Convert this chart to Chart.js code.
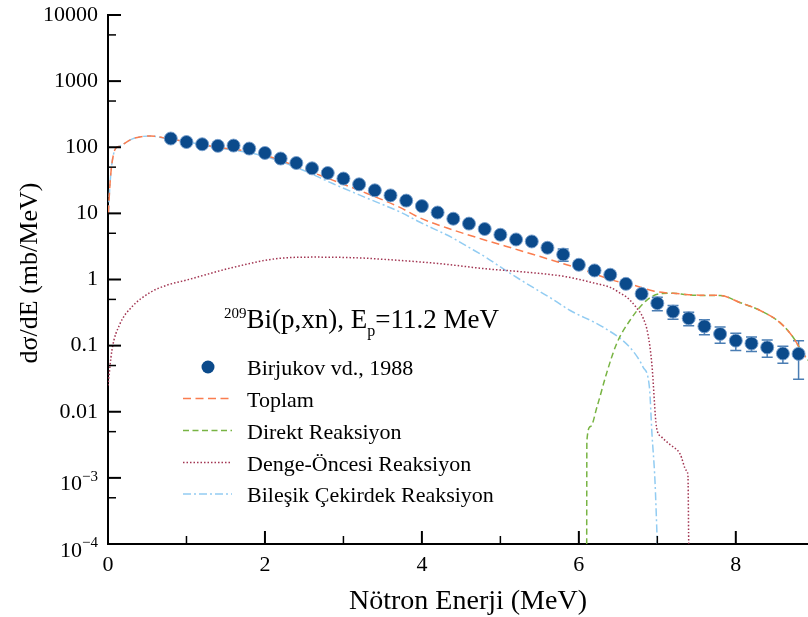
<!DOCTYPE html>
<html>
<head>
<meta charset="utf-8">
<script src="https://cdn.jsdelivr.net/npm/chart.js@4.4.1/dist/chart.umd.min.js"></script>
<style>
  html, body { margin: 0; padding: 0; background: #fff; }
  canvas { display: block; }
</style>
</head>
<body>
<canvas id="chart-bi" width="808" height="617"></canvas>
<script>
// Birjukov vd., 1988 - deney noktalari (MeV, mb/MeV)
const expE = [0.8, 1.0, 1.2, 1.4, 1.6, 1.8, 2.0, 2.2, 2.4, 2.6, 2.8, 3.0, 3.2, 3.4, 3.6, 3.8, 4.0, 4.2, 4.4, 4.6,
  4.8, 5.0, 5.2, 5.4, 5.6, 5.8, 6.0, 6.2, 6.4, 6.6, 6.8, 7.0, 7.2, 7.4, 7.6, 7.8, 8.0, 8.2, 8.4, 8.6, 8.8]
const expV = [135.5, 120, 111, 105, 106, 95.5, 82, 67.5, 57.8, 48, 40.8, 33.6, 27.5, 22.3, 18.7, 15.6, 12.9, 10.3, 8.3, 7.0,
  5.8, 4.75, 4.03, 3.76, 3.02, 2.39, 1.67, 1.37, 1.18, 0.86, 0.607, 0.438, 0.327, 0.259, 0.196, 0.150, 0.119, 0.108, 0.094, 0.076, 0.075]
const expErr = [0, 0, 0, 0, 0, 0, 0, 0, 0, 0, 0, 0, 0, 0, 0, 0, 0, 0, 0, 0,
  0, 0, 0, 0, 0, 0.5, 0, 0, 0, 0, 0.05, 0.1, 0.076, 0.06, 0.05, 0.0415, 0.0345, 0.0266, 0.0273, 0.022, 0.044]

// Toplam
const totE = [0.005, 0.02, 0.04, 0.07, 0.1, 0.15, 0.32, 0.54, 0.8, 1.0, 1.4, 1.8, 2.0, 2.45, 2.87, 3.3, 3.72, 3.97, 4.4, 4.82,
  5.25, 5.67, 6.1, 6.44, 6.7, 6.95, 7.1, 7.2, 7.54, 7.8, 8.05, 8.31, 8.56, 8.73, 8.86, 8.95]
const totV = [10, 22, 45, 78, 97, 104, 135, 148, 132, 122, 100, 86, 76, 49, 31.6, 20, 12.3, 8.6, 5.6, 3.9,
  2.75, 1.94, 1.34, 0.97, 0.82, 0.67, 0.63, 0.62, 0.58, 0.575, 0.45, 0.34, 0.225, 0.134, 0.075, 0.055]

// Direkt Reaksiyon
const dirE = [6.1, 6.102, 6.15, 6.23, 6.35, 6.48, 6.65, 6.86, 7.03, 7.2, 7.37, 7.54, 7.8, 8.05, 8.31, 8.56, 8.73, 8.86, 8.95]
const dirV = [0.0001, 0.0036, 0.006, 0.0117, 0.037, 0.106, 0.24, 0.48, 0.61, 0.62, 0.59, 0.575, 0.575, 0.45, 0.34, 0.225, 0.134, 0.075, 0.055]

// Denge-Öncesi Reaksiyon
const preE = [0, 0.05, 0.15, 0.3, 0.54, 0.75, 1.0, 1.6, 2.2, 2.66, 3.2, 3.72, 4.2, 4.82, 5.3, 5.84, 6.2, 6.4, 6.52, 6.61,
  6.73, 6.82, 6.88, 6.93, 6.99, 7.05, 7.16, 7.29, 7.37, 7.39, 7.4]
const preV = [0.025, 0.085, 0.21, 0.38, 0.64, 0.82, 0.98, 1.53, 2.1, 2.18, 2.12, 1.94, 1.75, 1.45, 1.3, 1.1, 0.88, 0.76, 0.63, 0.54,
  0.38, 0.26, 0.15, 0.053, 0.0058, 0.0042, 0.0032, 0.0023, 0.0013, 0.0011, 0.0001]

// Bileşik Çekirdek Reaksiyon
const cmpE = [0.005, 0.02, 0.04, 0.07, 0.1, 0.15, 0.32, 0.54, 0.8, 1.0, 1.4, 1.8, 2.0, 2.45, 2.87, 3.3, 3.72, 3.97, 4.4, 4.57,
  4.82, 5.0, 5.25, 5.5, 5.67, 5.89, 6.31, 6.65, 6.82, 6.9, 6.93, 6.97, 7.0]
const cmpV = [10, 22, 45, 78, 97, 104, 135, 148, 132, 121, 98, 83, 73, 47, 28, 17, 10.5, 7.4, 4.2, 3.2,
  2.15, 1.55, 1.0, 0.66, 0.5, 0.34, 0.19, 0.094, 0.047, 0.023, 0.005, 0.0009, 0.0001]

const xTickValues = [0, 2, 4, 6, 8]
const xTickLabels = ['0', '2', '4', '6', '8']
const xMinorTicks = [1, 3, 5, 7]
const yTickValues = [1e-4, 1e-3, 0.01, 0.1, 1, 10, 100, 1000, 10000]
const yTickLabels = ['10^-4', '10^-3', '0.01', '0.1', '1', '10', '100', '1000', '10000']
const yMinorTicks = [5e-4, 5e-3, 0.05, 0.5, 5, 50, 500, 5000]

const FONT = "'Liberation Serif', 'Times New Roman', serif"
const pts = (xs, ys) => xs.map((x, i) => ({ x, y: ys[i] }))

const decor = {
  id: 'decor',
  beforeDatasetsDraw(chart) {
    const { ctx, scales: { x, y } } = chart
    ctx.save()
    ctx.strokeStyle = '#4a7db3'
    ctx.lineWidth = 1.5
    expE.forEach((e, i) => {
      const err = expErr[i]
      if (!err) return
      const px = x.getPixelForValue(e)
      const top = y.getPixelForValue(expV[i] + err)
      const bot = y.getPixelForValue(expV[i] - err)
      ctx.beginPath()
      ctx.moveTo(px, top); ctx.lineTo(px, bot)
      ctx.moveTo(px - 5.5, top); ctx.lineTo(px + 5.5, top)
      ctx.moveTo(px - 5.5, bot); ctx.lineTo(px + 5.5, bot)
      ctx.stroke()
    })
    ctx.restore()
  },
  afterDraw(chart) {
    const { ctx, chartArea: a, scales: { x, y } } = chart
    ctx.save()

    // icerlek tick cizgileri
    ctx.strokeStyle = '#000'
    const tick = (x1, y1, x2, y2, w) => {
      ctx.lineWidth = w
      ctx.beginPath(); ctx.moveTo(x1, y1); ctx.lineTo(x2, y2); ctx.stroke()
    }
    yTickValues.forEach(v => { const p = y.getPixelForValue(v); tick(a.left, p, a.left + 13, p, 2) })
    yMinorTicks.forEach(v => { const p = y.getPixelForValue(v); tick(a.left, p, a.left + 8, p, 1.5) })
    xTickValues.forEach(v => { const p = x.getPixelForValue(v); tick(p, a.bottom, p, a.bottom - 13, 2) })
    xMinorTicks.forEach(v => { const p = x.getPixelForValue(v); tick(p, a.bottom, p, a.bottom - 8, 1.5) })

    // 10^-3, 10^-4 etiketleri
    ctx.fillStyle = '#000'
    ctx.textAlign = 'right'
    ctx.textBaseline = 'alphabetic'
    yTickLabels.forEach((lab, i) => {
      if (!lab.includes('^')) return
      const [base, exp] = lab.split('^')
      const p = y.getPixelForValue(yTickValues[i])
      const right = a.left - 10
      ctx.font = '15px ' + FONT
      const ex = exp.replace('-', '\u2212')
      ctx.fillText(ex, right, p + 3)
      const w = ctx.measureText(ex).width
      ctx.font = '22px ' + FONT
      ctx.fillText(base, right - w, p + 12.5)
    })

    // eksen basliklari
    ctx.textAlign = 'center'
    ctx.font = '28px ' + FONT
    ctx.fillText('Nötron Enerji (MeV)', 468, 609)
    ctx.font = '26px ' + FONT
    ctx.save()
    ctx.translate(37, 273)
    ctx.rotate(-Math.PI / 2)
    ctx.fillText('dσ/dE (mb/MeV)', 0, 0)
    ctx.restore()

    // reaksiyon etiketi
    ctx.textAlign = 'left'
    let cx = 224
    ctx.font = '15px ' + FONT
    ctx.fillText('209', cx, 318)
    cx += ctx.measureText('209').width
    ctx.font = '27px ' + FONT
    ctx.fillText('Bi(p,xn), E', cx, 328)
    cx += ctx.measureText('Bi(p,xn), E').width
    ctx.font = '16px ' + FONT
    ctx.fillText('p', cx, 336)
    cx += ctx.measureText('p').width
    ctx.font = '27px ' + FONT
    ctx.fillText('=11.2 MeV', cx, 328)

    // lejant
    const ds = chart.data.datasets
    ctx.font = '22px ' + FONT
    const rowY = [367, 398.5, 430.5, 462.5, 494]
    ds.forEach((d, i) => {
      const ly = rowY[i]
      if (i === 0) {
        ctx.beginPath()
        ctx.arc(208, ly, 6.5, 0, Math.PI * 2)
        ctx.fillStyle = d.backgroundColor
        ctx.fill()
      } else {
        ctx.strokeStyle = d.borderColor
        ctx.lineWidth = d.borderWidth
        ctx.setLineDash(d.borderDash)
        ctx.beginPath(); ctx.moveTo(183, ly); ctx.lineTo(232, ly); ctx.stroke()
        ctx.setLineDash([])
      }
      ctx.fillStyle = '#000'
      ctx.fillText(d.label, 247, ly + 8)
    })
    ctx.restore()
  }
}

const lineSet = (label, xs, ys, color, dash) => ({
  type: 'line',
  label,
  data: pts(xs, ys),
  borderColor: color,
  borderWidth: 1.5,
  borderDash: dash,
  pointRadius: 0,
  fill: false,
  cubicInterpolationMode: 'monotone'
})

new Chart(document.getElementById('chart-bi'), {
  type: 'scatter',
  data: {
    datasets: [
      {
        label: 'Birjukov vd., 1988',
        data: pts(expE, expV),
        backgroundColor: '#0b4a8b',
        borderColor: 'rgba(120,160,205,0.9)',
        borderWidth: 1,
        pointRadius: 6.5
      },
      lineSet('Toplam', totE, totV, '#fa7d4f', [8, 4.5]),
      lineSet('Direkt Reaksiyon', dirE, dirV, '#78b443', [6, 3.5]),
      lineSet('Denge-Öncesi Reaksiyon', preE, preV, '#a23552', [1.5, 2]),
      lineSet('Bileşik Çekirdek Reaksiyon', cmpE, cmpV, '#92ccf2', [8, 3, 2, 3])
    ]
  },
  options: {
    responsive: false,
    animation: false,
    devicePixelRatio: 1,
    layout: { autoPadding: false, padding: { top: 15, right: 0, left: 0, bottom: 0 } },
    plugins: { legend: { display: false }, tooltip: { enabled: false } },
    scales: {
      x: {
        type: 'linear',
        min: 0,
        max: 8.92,
        grid: { display: false, drawTicks: false, tickLength: 0 },
        border: { display: true, color: '#000', width: 2 },
        afterBuildTicks: s => { s.ticks = xTickValues.map(v => ({ value: v })) },
        afterFit: s => { s.height = 73; s.paddingLeft = 0; s.paddingRight = 0 },
        ticks: {
          autoSkip: false,
          maxRotation: 0,
          padding: 8,
          color: '#000',
          font: { family: FONT, size: 22 },
          callback: v => xTickLabels[xTickValues.indexOf(v)]
        }
      },
      y: {
        type: 'logarithmic',
        min: 1e-4,
        max: 1e4,
        grid: { display: false, drawTicks: false, tickLength: 0 },
        border: { display: true, color: '#000', width: 2 },
        afterBuildTicks: s => { s.ticks = yTickValues.map(v => ({ value: v })) },
        afterFit: s => { s.width = 108; s.paddingTop = 0; s.paddingBottom = 0 },
        ticks: {
          autoSkip: false,
          padding: 10,
          color: '#000',
          font: { family: FONT, size: 22 },
          callback: v => {
            const lab = yTickLabels[yTickValues.indexOf(v)]
            return lab && lab.includes('^') ? '' : lab
          }
        }
      }
    }
  },
  plugins: [decor]
})
</script>
</body>
</html>
